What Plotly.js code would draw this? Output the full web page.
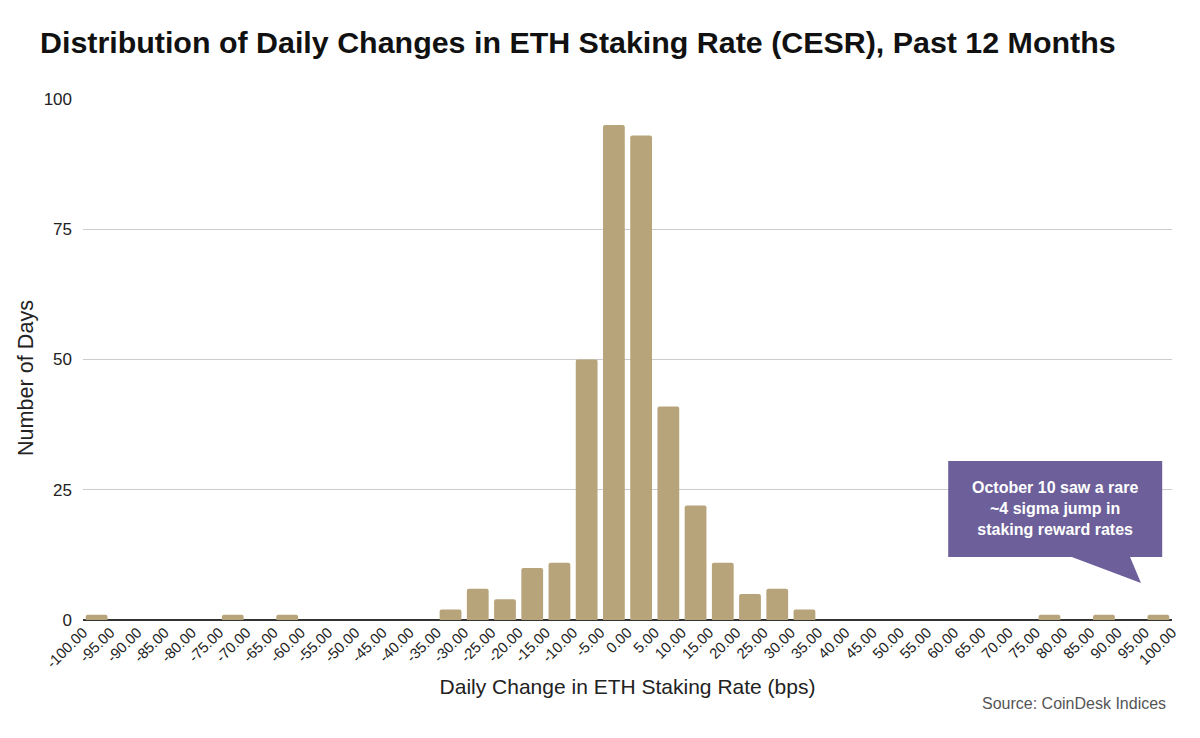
<!DOCTYPE html>
<html>
<head>
<meta charset="utf-8">
<script src="https://cdn.plot.ly/plotly-3.0.1.min.js"></script>
<style>
  html, body { margin: 0; padding: 0; background: #ffffff; }
  #chart { width: 1200px; height: 738px; }
</style>
</head>
<body>
<div id="chart"></div>
<script>
// Bin lower edges (bps) and the number of days in each 5 bps bin
const binStarts = [-100, -95, -90, -85, -80, -75, -70, -65, -60, -55,
                   -50, -45, -40, -35, -30, -25, -20, -15, -10, -5,
                   0, 5, 10, 15, 20, 25, 30, 35, 40, 45,
                   50, 55, 60, 65, 70, 75, 80, 85, 90, 95];
const dayCounts = [1, 0, 0, 0, 0, 1, 0, 1, 0, 0,
                   0, 0, 0, 2, 6, 4, 10, 11, 50, 95,
                   93, 41, 22, 11, 5, 6, 2, 0, 0, 0,
                   0, 0, 0, 0, 0, 1, 0, 1, 0, 1];
const binWidth = 5;

// Tick labels
const xTickVals = [-100, -95, -90, -85, -80, -75, -70, -65, -60, -55, -50,
                   -45, -40, -35, -30, -25, -20, -15, -10, -5, 0,
                   5, 10, 15, 20, 25, 30, 35, 40, 45, 50,
                   55, 60, 65, 70, 75, 80, 85, 90, 95, 100];
const xTickText = ["-100.00", "-95.00", "-90.00", "-85.00", "-80.00", "-75.00", "-70.00", "-65.00", "-60.00", "-55.00", "-50.00",
                   "-45.00", "-40.00", "-35.00", "-30.00", "-25.00", "-20.00", "-15.00", "-10.00", "-5.00", "0.00",
                   "5.00", "10.00", "15.00", "20.00", "25.00", "30.00", "35.00", "40.00", "45.00", "50.00",
                   "55.00", "60.00", "65.00", "70.00", "75.00", "80.00", "85.00", "90.00", "95.00", "100.00"];
const yTickVals = [0, 25, 50, 75, 100];

const titleText = "Distribution of Daily Changes in ETH Staking Rate (CESR), Past 12 Months";
const xTitle = "Daily Change in ETH Staking Rate (bps)";
const yTitle = "Number of Days";
const sourceText = "Source: CoinDesk Indices";
const calloutText = "October 10 saw a rare<br>~4 sigma jump in<br>staking reward rates";

const binCenters = binStarts.map(s => s + binWidth / 2);

const trace = {
  type: "bar",
  x: binCenters,
  y: dayCounts,
  width: binWidth * 0.8,
  marker: { color: "#b8a47b", cornerradius: 2, line: { width: 0 } },
  hoverinfo: "x+y"
};

const font = "Liberation Sans, Arial, Helvetica, sans-serif";

const layout = {
  width: 1200,
  height: 738,
  paper_bgcolor: "#ffffff",
  plot_bgcolor: "#ffffff",
  margin: { l: 83, r: 28, t: 99, b: 118 },
  showlegend: false,
  font: { family: font, color: "#222222" },
  title: {
    text: "<b>" + titleText + "</b>",
    x: 40 / 1200, xref: "container", xanchor: "left",
    y: 1 - 42 / 738, yref: "container", yanchor: "middle",
    font: { family: font, size: 30.4, color: "#111111" }
  },
  xaxis: {
    range: [-100, 100],
    tickmode: "array",
    tickvals: xTickVals,
    ticktext: xTickText,
    tickangle: -45,
    tickfont: { family: font, size: 14.8, color: "#222222" },
    ticks: "",
    showgrid: false,
    zeroline: false,
    showline: false,
    fixedrange: true,
    title: { text: xTitle, font: { family: font, size: 21, color: "#222222" }, standoff: 9 }
  },
  yaxis: {
    range: [0, 100],
    tickmode: "array",
    tickvals: yTickVals,
    tickfont: { family: font, size: 17, color: "#222222" },
    ticks: "",
    ticklabelstandoff: 10,
    showgrid: true,
    gridcolor: "#cccccc",
    gridwidth: 1,
    zeroline: true,
    zerolinecolor: "#333333",
    zerolinewidth: 2,
    showline: false,
    fixedrange: true
  },
  shapes: [
    {
      type: "path",
      xref: "x", yref: "y",
      path: "M 58.9 30.5 L 98.2 30.5 L 98.2 12.1 L 92.3 12.1 L 94.3 7.1 L 81.6 12.1 L 58.9 12.1 Z",
      fillcolor: "#6c5f9a",
      line: { width: 0 },
      layer: "above"
    }
  ],
  annotations: [
    {
      text: yTitle,
      xref: "paper", yref: "paper",
      x: -(83 - 25) / 1089, y: (620 - 378) / 521,
      xanchor: "center", yanchor: "middle",
      textangle: -90,
      showarrow: false,
      font: { family: font, size: 21.6, color: "#222222" }
    },
    {
      text: "<b>" + calloutText + "</b>",
      xref: "x", yref: "y",
      x: 78.6, y: 21.4,
      xanchor: "center", yanchor: "middle",
      showarrow: false,
      align: "center",
      font: { family: font, size: 16, color: "#ffffff" }
    },
    {
      text: sourceText,
      xref: "paper", yref: "paper",
      x: (1168 - 83) / 1089, y: -(703 - 620) / 521,
      xanchor: "right", yanchor: "middle",
      showarrow: false,
      font: { family: font, size: 16, color: "#555555" }
    }
  ]
};

Plotly.newPlot("chart", [trace], layout, { displayModeBar: false, staticPlot: true });
</script>
</body>
</html>
